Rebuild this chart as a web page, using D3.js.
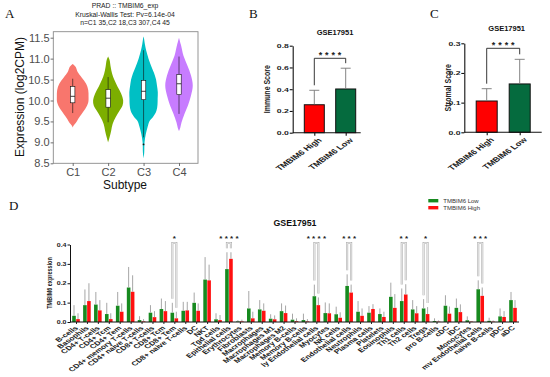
<!DOCTYPE html>
<html>
<head>
<meta charset="utf-8">
<script src="https://cdn.jsdelivr.net/npm/d3@7"></script>
<style>
  body { margin: 0; background: #fff; }
  text { font-family: 'Liberation Sans', Arial, sans-serif; }
  .letter { font-family: 'Liberation Serif', 'Times New Roman', serif; font-size: 13px; fill: #111; }
</style>
</head>
<body>
<script>
// ---- panel A: violin + box per subtype ----
const subtypes = ['C1', 'C2', 'C3', 'C4'];
const violinColors = ['#F8766D', '#7CAE00', '#00BFC4', '#C77CFF'];
// [expression, relative half width]
const c1Shape = [[9.35,0],[9.4,0.06],[9.46,0.19],[9.56,0.34],[9.68,0.56],[9.8,0.79],[9.95,0.97],[10.1,0.99],[10.25,0.97],[10.4,0.84],[10.55,0.56],[10.68,0.31],[10.8,0.19],[10.87,0]];
const c2Shape = [[9.0,0],[9.12,0.09],[9.28,0.19],[9.44,0.28],[9.6,0.47],[9.76,0.72],[9.88,0.9],[10.0,0.94],[10.17,0.81],[10.33,0.59],[10.5,0.38],[10.64,0.25],[10.8,0.16],[10.97,0.09],[11.05,0]];
const c3Shape = [[8.62,0],[8.75,0.04],[9.0,0.06],[9.2,0.14],[9.38,0.26],[9.5,0.36],[9.6,0.58],[9.75,0.8],[9.9,0.87],[10.05,0.88],[10.2,0.89],[10.35,0.84],[10.5,0.78],[10.65,0.66],[10.8,0.5],[11.0,0.31],[11.2,0.16],[11.35,0.08],[11.5,0.02],[11.53,0]];
const c4Shape = [[9.27,0],[9.35,0.08],[9.48,0.16],[9.68,0.34],[9.88,0.56],[10.12,0.75],[10.36,0.86],[10.6,0.75],[10.83,0.53],[11.07,0.28],[11.33,0.12],[11.5,0]];
const violinShapes = [c1Shape, c2Shape, c3Shape, c4Shape];
const boxLow  = [9.70, 9.48, 9.12, 9.68];
const boxQ1   = [9.945, 9.84, 10.02, 10.14];
const boxMed  = [10.10, 10.055, 10.22, 10.40];
const boxQ3   = [10.335, 10.26, 10.48, 10.62];
const boxHigh = [10.52, 10.56, 11.2, 11.05];
const outliers = [['C3', 8.95]];
const yTicksA = [8.5, 9.0, 9.5, 10.0, 10.5, 11.0, 11.5];

// ---- panels B, C: two-bar comparison ----
const groups = ['TMBIM6 High', 'TMBIM6 Low'];
const immuneMean = [0.257, 0.402];
const immuneSd = [0.133, 0.191];
const stromalMean = [0.1055, 0.163];
const stromalSd = [0.0415, 0.083];

// ---- panel D: xCell scores by TMBIM6 group ----
const cells = ['B-cells','Basophils','CD4+ T-cells','CD4+ Tcm','CD4+ Tem','CD4+ memory T-cells','CD4+ naive T-cells',
  'CD8+ T-cells','CD8+ Tcm','CD8+ Tem','CD8+ naive T-cells','DC','NKT','Tgd cells','Epithelial cells','Erythrocytes',
  'Fibroblasts','Macrophages','Macrophages M1','Macrophages M2','Memory B-cells','Memory B-cells ','ly Endothelial cells',
  'Myocytes','NK cells','Endothelial cells','Neutrophils','Plasma cells','Platelets','Eosinophils','Th1 cells','Th2 cells',
  'Tregs','pro B-cells','cDC','iDC','Monocytes','mv Endothelial cells','naive B-cells','pDC','aDC'];
const lowMean = [0.032,0.087,0.090,0.041,0.084,0.178,0.010,0.048,0.067,0.048,0.058,0.099,0.219,0.014,0.273,0.003,
  0.070,0.065,0.017,0.056,0.012,0.010,0.133,0.046,0.040,0.186,0.053,0.048,0.041,0.130,0.108,0.065,
  0.070,0.005,0.084,0.073,0.009,0.169,0.006,0.029,0.113];
const lowTop = [0.087,0.168,0.155,0.099,0.155,0.284,0.030,0.087,0.121,0.099,0.104,0.152,0.335,0.045,0.360,0.010,
  0.160,0.113,0.040,0.096,0.043,0.043,0.193,0.101,0.079,0.246,0.108,0.082,0.070,0.203,0.173,0.113,
  0.118,0.019,0.138,0.121,0.029,0.215,0.022,0.070,0.155];
const highMean = [0.015,0.108,0.060,0.015,0.053,0.156,0.003,0.025,0.056,0.019,0.060,0.058,0.215,0.010,0.326,0.003,
  0.019,0.058,0.014,0.046,0.004,0.003,0.087,0.045,0.022,0.152,0.032,0.067,0.026,0.073,0.142,0.045,
  0.041,0.002,0.043,0.051,0.002,0.135,0.002,0.026,0.073];
const highTop = [0.045,0.200,0.113,0.045,0.096,0.241,0.015,0.056,0.108,0.053,0.104,0.096,0.296,0.036,0.360,0.012,
  0.053,0.096,0.034,0.085,0.019,0.015,0.127,0.096,0.050,0.193,0.070,0.092,0.053,0.144,0.195,0.082,
  0.077,0.008,0.080,0.091,0.005,0.178,0.008,0.056,0.113];
const sigCells = ['CD8+ Tem','Epithelial cells','ly Endothelial cells','Endothelial cells','Th1 cells','Tregs','mv Endothelial cells'];
const sigStars = [1, 4, 4, 3, 2, 1, 3];

const svg = d3.select('body').append('svg').attr('width', 550).attr('height', 377);

// panel letters
svg.append('text').attr('class', 'letter').attr('x', 5).attr('y', 18.3).text('A');
svg.append('text').attr('class', 'letter').attr('x', 249).attr('y', 18.3).text('B');
svg.append('text').attr('class', 'letter').attr('x', 430).attr('y', 18.3).text('C');
svg.append('text').attr('class', 'letter').attr('x', 9).attr('y', 210).text('D');

// ================= A =================
const yA = d3.scaleLinear().domain([8.5, 11.5]).range([163.3, 37.7]);
const xA = d3.scalePoint().domain(subtypes).range([72.7, 179]);
const wA = d3.scaleLinear().domain([0, 1]).range([0, 16]);
const gA = svg.append('g');

violinShapes.forEach(function(shape, i) {
  const cx = xA(subtypes[i]);
  const area = d3.area()
    .y(d => yA(d[0]))
    .x0(d => cx - wA(d[1]))
    .x1(d => cx + wA(d[1]))
    .curve(d3.curveCatmullRom);
  gA.append('path').attr('d', area(shape)).attr('fill', violinColors[i]);
});

subtypes.forEach(function(s, i) {
  const cx = xA(s);
  gA.append('line').attr('x1', cx).attr('x2', cx).attr('y1', yA(boxHigh[i])).attr('y2', yA(boxQ3[i]))
    .attr('stroke', '#111').attr('stroke-width', 0.6);
  gA.append('line').attr('x1', cx).attr('x2', cx).attr('y1', yA(boxQ1[i])).attr('y2', yA(boxLow[i]))
    .attr('stroke', '#111').attr('stroke-width', 0.6);
  gA.append('rect').attr('x', cx - 2.2).attr('width', 4.4)
    .attr('y', yA(boxQ3[i])).attr('height', yA(boxQ1[i]) - yA(boxQ3[i]))
    .attr('fill', '#fff').attr('stroke', '#111').attr('stroke-width', 0.6);
  gA.append('line').attr('x1', cx - 2.2).attr('x2', cx + 2.2).attr('y1', yA(boxMed[i])).attr('y2', yA(boxMed[i]))
    .attr('stroke', '#111').attr('stroke-width', 0.8);
});
outliers.forEach(function(o) {
  gA.append('circle').attr('cx', xA(o[0])).attr('cy', yA(o[1])).attr('r', 0.9).attr('fill', '#111');
});

gA.append('rect').attr('x', 53.3).attr('y', 31.7).attr('width', 144.7).attr('height', 131.6)
  .attr('fill', 'none').attr('stroke', '#8a8a8a').attr('stroke-width', 0.9);

const yAxisA = gA.append('g').attr('transform', 'translate(53.3,0)')
  .call(d3.axisLeft(yA).tickValues(yTicksA).tickFormat(d3.format('.1f')).tickSize(2.7).tickPadding(1));
const xAxisA = gA.append('g').attr('transform', 'translate(0,163.3)')
  .call(d3.axisBottom(xA).tickSize(2.7).tickPadding(2));
[yAxisA, xAxisA].forEach(function(g) {
  g.select('.domain').remove();
  g.selectAll('line').attr('stroke', '#333').attr('stroke-width', 0.7);
  g.selectAll('text').attr('font-size', 11).attr('fill', '#4d4d4d').attr('font-family', "'Liberation Sans', Arial, sans-serif");
});

gA.append('text').attr('transform', 'translate(23.5,97) rotate(-90)').attr('text-anchor', 'middle')
  .attr('font-size', 12).attr('fill', '#111').text('Expression (log2CPM)');
gA.append('text').attr('x', 125).attr('y', 189).attr('text-anchor', 'middle')
  .attr('font-size', 12).attr('fill', '#111').text('Subtype');
const titleA = ['PRAD :: TMBIM6_exp', 'Kruskal-Wallis Test: Pv=6.14e-04', 'n=C1 35,C2 18,C3 307,C4 45'];
titleA.forEach(function(t, i) {
  gA.append('text').attr('x', 125).attr('y', [7.5, 16.8, 25][i]).attr('text-anchor', 'middle')
    .attr('font-size', 6.8).attr('fill', '#222').text(t);
});

// ================= B, C =================
const barColors = ['#ff0000', '#056b3e'];
const sx = 1.4;

function barPanel(cfg) {
  const g = svg.append('g');
  const x = d3.scalePoint().domain(groups).range(cfg.centers);
  const y = d3.scaleLinear().domain([0, cfg.max]).range([cfg.y0, cfg.y1]);

  g.selectAll('rect.bar').data(cfg.mean).join('rect')
    .attr('x', (d, i) => x(groups[i]) - cfg.bw / 2)
    .attr('y', d => y(d))
    .attr('width', cfg.bw)
    .attr('height', d => cfg.y0 - y(d))
    .attr('fill', (d, i) => barColors[i])
    .attr('stroke', '#111').attr('stroke-width', 1);

  // error bars, upper half only
  cfg.mean.forEach(function(m, i) {
    const cx = x(groups[i]), top = y(m + cfg.sd[i]);
    g.append('line').attr('x1', cx).attr('x2', cx).attr('y1', y(m) - 0.5).attr('y2', top)
      .attr('stroke', '#777').attr('stroke-width', 0.9);
    g.append('line').attr('x1', cx - 5).attr('x2', cx + 5).attr('y1', top).attr('y2', top)
      .attr('stroke', '#777').attr('stroke-width', 0.9);
  });

  // significance bracket
  const lx = x(groups[0]), rx = x(groups[1]);
  const lb = y(cfg.mean[0] + cfg.sd[0]) - 5, rb = y(cfg.mean[1] + cfg.sd[1]) - 5;
  g.append('path').attr('d', `M${lx},${lb}V${cfg.bracketY}H${rx}V${rb}`)
    .attr('fill', 'none').attr('stroke', '#222').attr('stroke-width', 0.9);
  const mid = (lx + rx) / 2;
  for (let k = 0; k < 4; k++) {
    g.append('text').attr('x', mid + (k - 1.5) * 6.4).attr('y', cfg.bracketY - 0.8)
      .attr('text-anchor', 'middle').attr('font-size', 9).attr('font-weight', 'bold').attr('fill', '#222').text('*');
  }

  // axes
  const ya = g.append('g').attr('transform', `translate(${cfg.x0},0)`)
    .call(d3.axisLeft(y).tickValues(cfg.ticks).tickFormat(d3.format('.1f')).tickSize(3).tickSizeOuter(0));
  ya.selectAll('line, path').attr('stroke', '#111').attr('stroke-width', 1.1);
  ya.selectAll('text').attr('x', null)
    .attr('transform', `translate(-3.8,0) scale(${sx},1)`)
    .attr('font-size', 6.2).attr('font-weight', 'bold').attr('fill', '#222')
    .attr('font-family', "'Liberation Sans', Arial, sans-serif");

  g.append('line').attr('x1', cfg.x0).attr('x2', cfg.x1).attr('y1', cfg.y0).attr('y2', cfg.y0)
    .attr('stroke', '#111').attr('stroke-width', 1.1);
  const xa = g.append('g').attr('transform', `translate(0,${cfg.y0})`)
    .call(d3.axisBottom(x).tickSize(3).tickSizeOuter(0));
  xa.select('.domain').remove();
  xa.selectAll('line').attr('stroke', '#111').attr('stroke-width', 1.1);
  xa.selectAll('text').attr('y', null).attr('dy', null)
    .attr('transform', `translate(7.5,8) scale(${sx},1) rotate(-45)`)
    .attr('text-anchor', 'end').attr('font-size', 6.8).attr('font-weight', 'bold').attr('fill', '#222')
    .attr('font-family', "'Liberation Sans', Arial, sans-serif");

  g.append('text').attr('transform', `translate(${cfg.labelX},${(cfg.y0 + cfg.y1) / 2}) scale(1.25,1) rotate(-90)`)
    .attr('text-anchor', 'middle').attr('font-size', 7).attr('font-weight', 'bold').attr('fill', '#222')
    .text(cfg.label);
  g.append('text').attr('x', cfg.titleX).attr('y', cfg.titleY).attr('text-anchor', 'middle')
    .attr('font-size', 7.5).attr('font-weight', 'bold').attr('fill', '#111').text('GSE17951');
}

barPanel({
  mean: immuneMean, sd: immuneSd, max: 0.8, ticks: [0, 0.2, 0.4, 0.6, 0.8],
  centers: [314.3, 345.7], bw: 20, x0: 292.7, x1: 360.7, y0: 132.7, y1: 45.7,
  bracketY: 58.3, label: 'Immune Score', labelX: 270, titleX: 335, titleY: 35.3
});
barPanel({
  mean: stromalMean, sd: stromalSd, max: 0.3, ticks: [0, 0.1, 0.2, 0.3],
  centers: [486.7, 519.7], bw: 21, x0: 464.3, x1: 541.7, y0: 132.3, y1: 43.3,
  bracketY: 48.3, label: 'Stromal Score', labelX: 450.5, titleX: 506.7, titleY: 31
});

// ================= D =================
const dGreen = '#178a1f', dRed = '#ff1010';
const xD = d3.scalePoint().domain(cells).range([76, 513]);
const yD = d3.scaleLinear().domain([0, 0.4]).range([322, 244.5]);
const gD = svg.append('g');
const barW = 3.6;

cells.forEach(function(c, i) {
  const cx = xD(c);
  gD.append('rect').attr('x', cx - barW - 0.2).attr('width', barW)
    .attr('y', yD(lowMean[i])).attr('height', 322 - yD(lowMean[i])).attr('fill', dGreen);
  gD.append('rect').attr('x', cx + 0.2).attr('width', barW)
    .attr('y', yD(highMean[i])).attr('height', 322 - yD(highMean[i])).attr('fill', dRed);
  gD.append('line').attr('x1', cx - barW / 2 - 0.2).attr('x2', cx - barW / 2 - 0.2)
    .attr('y1', yD(lowMean[i])).attr('y2', yD(lowTop[i])).attr('stroke', '#9c9c9c').attr('stroke-width', 0.9);
  gD.append('line').attr('x1', cx + barW / 2 + 0.2).attr('x2', cx + barW / 2 + 0.2)
    .attr('y1', yD(highMean[i])).attr('y2', yD(highTop[i])).attr('stroke', '#9c9c9c').attr('stroke-width', 0.9);
});

sigCells.forEach(function(c, k) {
  const i = cells.indexOf(c), cx = xD(c);
  const lx = cx - barW / 2 - 0.2, rx = cx + barW / 2 + 0.2;
  const d = `M${lx},${yD(lowTop[i]) - 4}V243H${rx}V${yD(highTop[i]) - 4}`;
  gD.append('path').attr('d', d).attr('fill', 'none').attr('stroke', '#b4b4b4').attr('stroke-width', 2.1);
  gD.append('path').attr('d', d).attr('fill', 'none').attr('stroke', '#fff').attr('stroke-width', 0.7);
  for (let s = 0; s < sigStars[k]; s++) {
    gD.append('text').attr('x', cx + (s - (sigStars[k] - 1) / 2) * 5.4).attr('y', 240.5)
      .attr('text-anchor', 'middle').attr('font-size', 8).attr('font-weight', 'bold').attr('fill', '#222').text('*');
  }
});

const yAxisD = gD.append('g').attr('transform', 'translate(70,0)')
  .call(d3.axisLeft(yD).tickValues([0, 0.1, 0.2, 0.3, 0.4]).tickFormat(d3.format('.1f')).tickSize(2.5).tickSizeOuter(0));
yAxisD.selectAll('line, path').attr('stroke', '#111').attr('stroke-width', 1);
yAxisD.selectAll('text').attr('x', null)
  .attr('transform', 'translate(-3.5,0) scale(1.35,1)')
  .attr('font-size', 5.2).attr('font-weight', 'bold').attr('fill', '#222')
  .attr('font-family', "'Liberation Sans', Arial, sans-serif");

gD.append('line').attr('x1', 70).attr('x2', 519).attr('y1', 322).attr('y2', 322)
  .attr('stroke', '#111').attr('stroke-width', 1);
const xAxisD = gD.append('g').attr('transform', 'translate(0,322)')
  .call(d3.axisBottom(xD).tickSize(2).tickSizeOuter(0));
xAxisD.select('.domain').remove();
xAxisD.selectAll('line').attr('stroke', '#111').attr('stroke-width', 0.9);
xAxisD.selectAll('text').attr('y', null).attr('dy', null)
  .attr('transform', `translate(2,6.5) scale(${sx},1) rotate(-45)`)
  .attr('text-anchor', 'end').attr('font-size', 6.1).attr('font-weight', 'bold').attr('fill', '#222')
  .attr('font-family', "'Liberation Sans', Arial, sans-serif");

gD.append('text').attr('transform', 'translate(51.5,283) scale(1.3,1) rotate(-90)')
  .attr('text-anchor', 'middle').attr('font-size', 5.5).attr('font-weight', 'bold').attr('fill', '#222')
  .text('TMBIM6 expression');
gD.append('text').attr('x', 295).attr('y', 226).attr('text-anchor', 'middle')
  .attr('font-size', 8.8).attr('font-weight', 'bold').attr('fill', '#111').text('GSE17951');

// legend
const legendNames = ['TMBIM6 Low', 'TMBIM6 High'];
const legendColors = [dGreen, dRed];
legendNames.forEach(function(n, i) {
  gD.append('rect').attr('x', 428.3).attr('y', 199 + i * 7).attr('width', 10).attr('height', 3.4).attr('fill', legendColors[i]);
  gD.append('text').attr('x', 443.3).attr('y', 203.3 + i * 7).attr('font-size', 6).attr('fill', '#333').text(n);
});
</script>
</body>
</html>
